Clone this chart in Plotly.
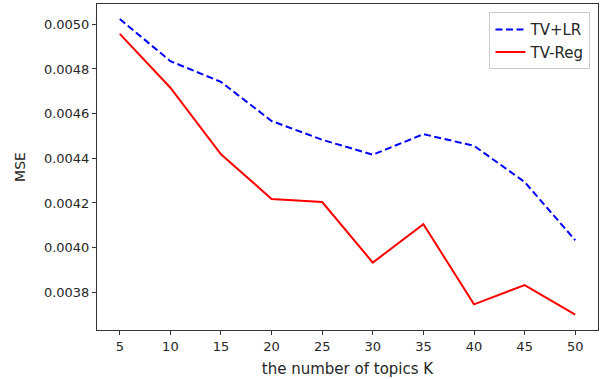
import plotly.graph_objects as go

k_values = [5, 10, 15, 20, 25, 30, 35, 40, 45, 50]
tv_lr = [0.005024, 0.004835, 0.004742, 0.004567, 0.004483, 0.004416, 0.004508, 0.004456, 0.004294, 0.004033]
tv_reg = [0.004957, 0.004716, 0.004418, 0.004218, 0.004204, 0.003933, 0.004105, 0.003746, 0.003832, 0.003700]
y_ticks = [0.0038, 0.0040, 0.0042, 0.0044, 0.0046, 0.0048, 0.0050]

font = dict(family="DejaVu Sans", size=13, color="#262626")
label_font = dict(family="DejaVu Sans", size=15, color="#262626")

fig = go.Figure()
fig.add_trace(go.Scatter(x=k_values, y=tv_lr, mode="lines", name="TV+LR",
                         line=dict(color="blue", width=2, dash="7px,3.5px")))
fig.add_trace(go.Scatter(x=k_values, y=tv_reg, mode="lines", name="TV-Reg",
                         line=dict(color="red", width=2)))

axis_common = dict(showline=True, linecolor="#333333", linewidth=1, mirror=True,
                   ticks="outside", ticklen=4, tickcolor="#333333", showgrid=False,
                   zeroline=False, tickfont=font)

fig.update_layout(
    width=600, height=379,
    margin=dict(l=97, r=2, t=4, b=49),
    plot_bgcolor="white", paper_bgcolor="white",
    font=font,
    xaxis=dict(range=[2.75, 52.25], tickvals=k_values,
               title=dict(text="the number of topics K", font=label_font, standoff=10),
               **axis_common),
    yaxis=dict(range=[0.003631, 0.005091], tickvals=y_ticks, tickformat=".4f",
               title=dict(text="MSE", font=dict(family="DejaVu Sans", size=14, color="#262626"), standoff=15),
               **axis_common),
    legend=dict(x=0.985, y=0.975, xanchor="right", yanchor="top",
                bgcolor="rgba(255,255,255,0.8)", bordercolor="#cccccc", borderwidth=1,
                tracegroupgap=0, itemwidth=30,
                font=label_font),
)

fig.write_html("out.html", config={"displayModeBar": False},
               post_script="document.body.style.margin='0';")
